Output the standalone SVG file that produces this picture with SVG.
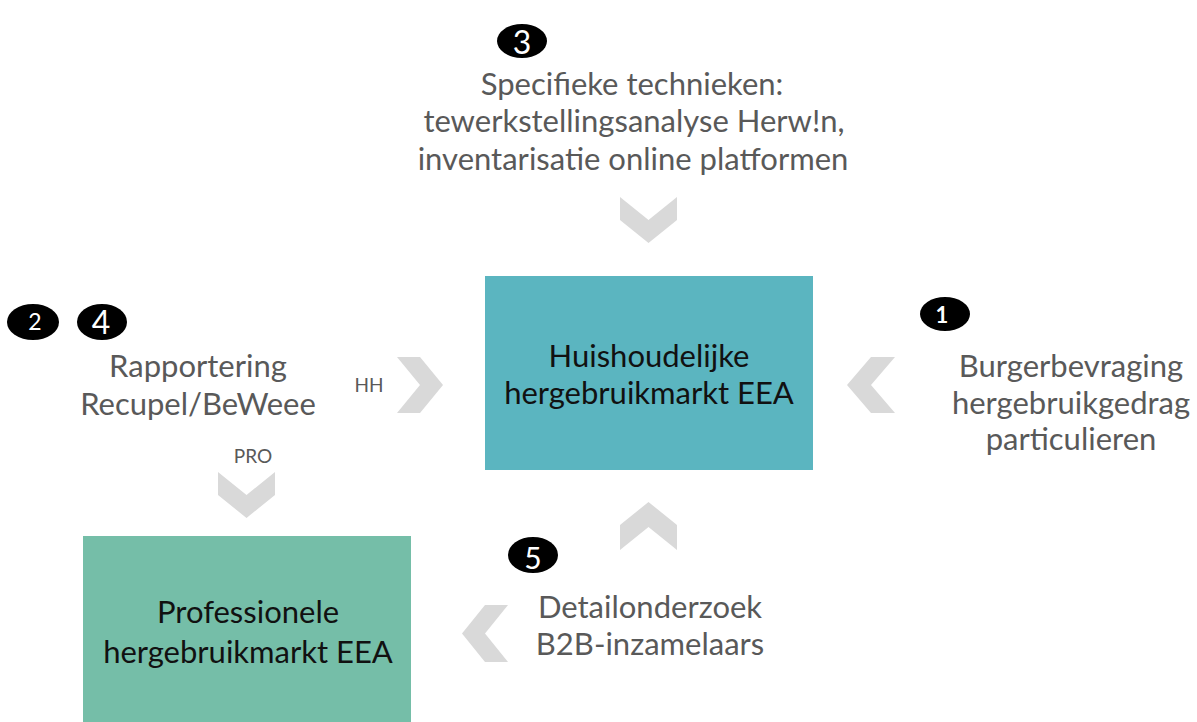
<svg xmlns="http://www.w3.org/2000/svg" width="1197" height="722" viewBox="0 0 1197 722">
<style>
.lbl{font-family:Lato,"Open Sans","Liberation Sans",sans-serif;font-size:31px;fill:#595959;text-anchor:middle}
.box{font-family:Lato,"Open Sans","Liberation Sans",sans-serif;font-size:31px;fill:#111111;text-anchor:middle}
.tag{font-family:Lato,"Open Sans","Liberation Sans",sans-serif;font-size:19px;fill:#595959;text-anchor:middle}
.badge{fill:#000000}
.num{font-family:Lato,"Open Sans","Liberation Sans",sans-serif;fill:#ffffff;text-anchor:middle}
.chev{fill:#d9d9d9}
</style>
<rect width="1197" height="722" fill="#ffffff"/>
<g id="connectors">
<polygon class="chev" points="620,197 648.5,220 677,197 677,220 648.5,243 620,220"/>
<polygon class="chev" points="397,357 420,357 443,385 420,413 397,413 420,385"/>
<polygon class="chev" points="218,472 246.5,495 275,472 275,495 246.5,518 218,495"/>
<polygon class="chev" points="895,357 871,357 847,385 871,413 895,413 871,385"/>
<polygon class="chev" points="620,550 648.5,527 677,550 677,525 648.5,502 620,525"/>
<polygon class="chev" points="508,605 485,605 462,633.5 485,662 508,662 485,633.5"/>
<text class="tag" x="369" y="392">HH</text>
<text class="tag" x="253" y="463">PRO</text>
</g>
<g id="node-huishoudelijk">
<rect x="485" y="276" width="328" height="194" fill="#5bb5c0"/>
<text class="box" x="649" y="367">Huishoudelijke</text>
<text class="box" x="649" y="404">hergebruikmarkt EEA</text>
</g>
<g id="node-professioneel">
<rect x="83" y="536" width="328" height="190" fill="#75bea8"/>
<text class="box" x="248" y="623">Professionele</text>
<text class="box" x="248" y="663">hergebruikmarkt EEA</text>
</g>
<g id="node-technieken">
<ellipse class="badge" cx="522" cy="41" rx="25" ry="17"/>
<text class="num" x="522" y="54" font-size="32">3</text>
<text class="lbl" x="632" y="95">Specifieke technieken:</text>
<text class="lbl" x="634" y="132">tewerkstellingsanalyse Herw!n,</text>
<text class="lbl" x="633" y="170">inventarisatie online platformen</text>
</g>
<g id="node-rapportering">
<ellipse class="badge" cx="33" cy="322" rx="26" ry="18"/>
<text class="num" x="35" y="330" font-size="23">2</text>
<ellipse class="badge" cx="102" cy="322" rx="25" ry="18"/>
<text class="num" x="101" y="334" font-size="32">4</text>
<text class="lbl" x="198" y="377">Rapportering</text>
<text class="lbl" x="198" y="415">Recupel/BeWeee</text>
</g>
<g id="node-burgerbevraging">
<ellipse class="badge" cx="945" cy="314" rx="25" ry="17"/>
<text class="num" x="942" y="323" font-size="22" font-weight="bold" font-family="'DejaVu Sans Mono',monospace">1</text>
<text class="lbl" x="1071" y="377">Burgerbevraging</text>
<text class="lbl" x="1071" y="414">hergebruikgedrag</text>
<text class="lbl" x="1071" y="450">particulieren</text>
</g>
<g id="node-detailonderzoek">
<ellipse class="badge" cx="533" cy="555" rx="25" ry="18"/>
<text class="num" x="533" y="569" font-size="30">5</text>
<text class="lbl" x="650" y="618">Detailonderzoek</text>
<text class="lbl" x="650" y="655">B2B-inzamelaars</text>
</g>
</svg>
